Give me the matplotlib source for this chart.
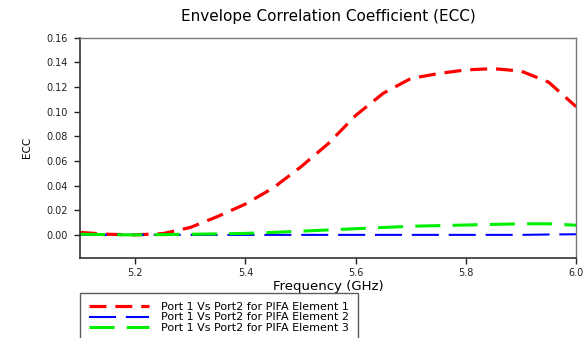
import matplotlib
matplotlib.use("Agg")
import matplotlib.pyplot as plt

plt.rcParams["font.family"] = ["DejaVu Sans"]

# Frequency samples (GHz) and ECC values
freq = [5.10, 5.15, 5.20, 5.25, 5.30, 5.35, 5.40, 5.45, 5.50, 5.55,
        5.60, 5.65, 5.70, 5.75, 5.80, 5.85, 5.90, 5.95, 6.00]
ecc_elem1 = [0.002, 0.0005, 0.0, 0.001, 0.006, 0.015, 0.025, 0.038, 0.055, 0.074,
             0.097, 0.115, 0.127, 0.131, 0.134, 0.135, 0.133, 0.124, 0.104]
ecc_elem2 = [0.0, 0.0, 0.0, 0.0, 0.0, 0.0, 0.0, 0.0, 0.0, 0.0,
             0.0, 0.0, 0.0, 0.0, 0.0, 0.0, 0.0, 0.0003, 0.0005]
ecc_elem3 = [0.0005, 0.0002, 0.0, 0.0002, 0.0005, 0.0008, 0.0012, 0.002, 0.003, 0.004,
             0.005, 0.006, 0.007, 0.0075, 0.008, 0.0085, 0.009, 0.009, 0.0078]
labels = ["Port 1 Vs Port2 for PIFA Element 1",
          "Port 1 Vs Port2 for PIFA Element 2",
          "Port 1 Vs Port2 for PIFA Element 3"]
yticks = [0.00, 0.02, 0.04, 0.06, 0.08, 0.10, 0.12, 0.14, 0.16]
xticks = [5.2, 5.4, 5.6, 5.8, 6.0]

fig = plt.figure(figsize=(5.88, 3.38), dpi=100)
ax = fig.add_axes([0.136, 0.237, 0.844, 0.651])

ax.plot(freq, ecc_elem1, color="#ff0000", linewidth=2.3, dashes=(5.3, 2.8), label=labels[0])
ax.plot(freq, ecc_elem2, color="#0000ff", linewidth=1.5, dashes=(13, 4.7), label=labels[1])
ax.plot(freq, ecc_elem3, color="#00ee00", linewidth=2.2, dashes=(8.2, 4.0), label=labels[2])

ax.set_xlim(5.1, 6.0)
ax.set_ylim(-0.0187, 0.16)
ax.set_xticks(xticks)
ax.set_xticklabels([f"{t:.1f}" for t in xticks])
ax.set_yticks(yticks)
ax.set_yticklabels([f"{t:.2f}" for t in yticks])
ax.tick_params(direction="out", length=4, width=1, labelsize=7, colors="#222222", pad=3)
ax.tick_params(axis="y", pad=5)

for side in ["left", "bottom"]:
    ax.spines[side].set_color("#333333")
    ax.spines[side].set_linewidth(1.2)
for side in ["top", "right"]:
    ax.spines[side].set_color("#777777")
    ax.spines[side].set_linewidth(1.0)

ax.set_title("Envelope Correlation Coefficient (ECC)", fontsize=11, pad=12)
ax.set_xlabel("Frequency (GHz)", fontsize=9.5, labelpad=2)
ax.set_ylabel("ECC", fontsize=7.5, labelpad=10)

leg = fig.legend(loc="upper left", bbox_to_anchor=(0.136, 0.133),
                 bbox_transform=fig.transFigure, fontsize=8, frameon=True,
                 fancybox=False, borderpad=0.8, labelspacing=0.05,
                 handlelength=5.4, handletextpad=1.1, borderaxespad=0)
leg.get_frame().set_edgecolor("#333333")
leg.get_frame().set_linewidth(1.0)

fig.savefig("out.png", dpi=100)
